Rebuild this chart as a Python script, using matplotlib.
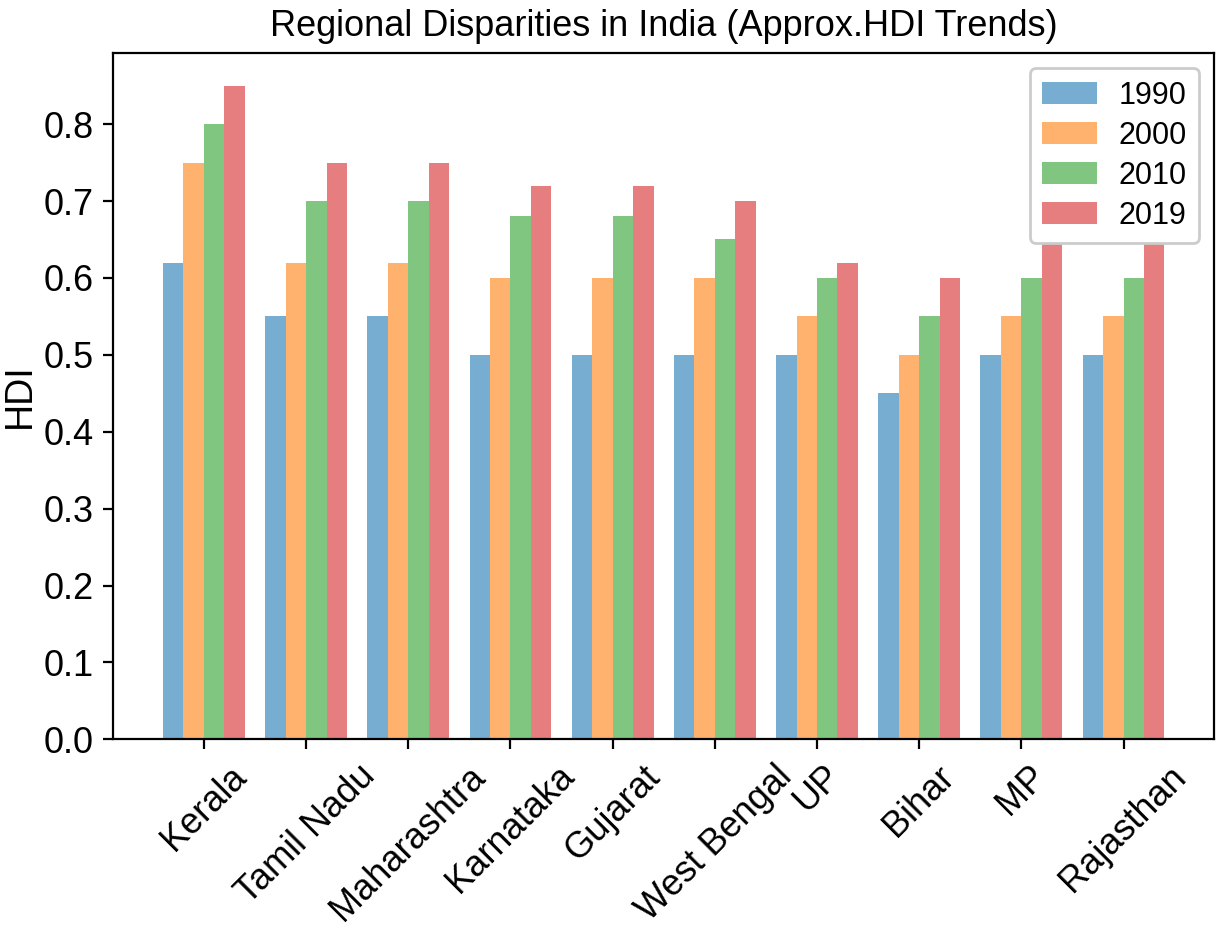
import matplotlib
matplotlib.use("Agg")
import matplotlib.pyplot as plt
import numpy as np

plt.rcParams['font.family'] = ['Liberation Sans', 'DejaVu Sans']

states = ["Kerala", "Tamil Nadu", "Maharashtra", "Karnataka", "Gujarat",
          "West Bengal", "UP", "Bihar", "MP", "Rajasthan"]
years = ["1990", "2000", "2010", "2019"]
hdi_1990 = [0.62, 0.55, 0.55, 0.50, 0.50, 0.50, 0.50, 0.45, 0.50, 0.50]
hdi_2000 = [0.75, 0.62, 0.62, 0.60, 0.60, 0.60, 0.55, 0.50, 0.55, 0.55]
hdi_2010 = [0.80, 0.70, 0.70, 0.68, 0.68, 0.65, 0.60, 0.55, 0.60, 0.60]
hdi_2019 = [0.85, 0.75, 0.75, 0.72, 0.72, 0.70, 0.62, 0.60, 0.65, 0.65]
series = [hdi_1990, hdi_2000, hdi_2010, hdi_2019]

fig, ax = plt.subplots(figsize=(6.14, 4.65), dpi=200)
x = np.arange(len(states))
w = 0.2
for i, (yr, vals) in enumerate(zip(years, series)):
    ax.bar(x + (i - 1.5) * w, vals, w, label=yr, alpha=0.6)

ax.set_xticks(x)
ax.set_xticklabels(states, rotation=45, fontsize=13)
ax.tick_params(axis='y', labelsize=13)
ax.set_ylabel("HDI", fontsize=13.5, labelpad=2)
ax.set_title("Regional Disparities in India (Approx.HDI Trends)", fontsize=13)
ax.legend(loc='upper right', fontsize=11, framealpha=1,
          handlelength=1.8, labelspacing=0.33, handletextpad=0.7)

fig.subplots_adjust(left=0.092, right=0.989, top=0.943, bottom=0.205)
fig.savefig("out.png", dpi=200)
